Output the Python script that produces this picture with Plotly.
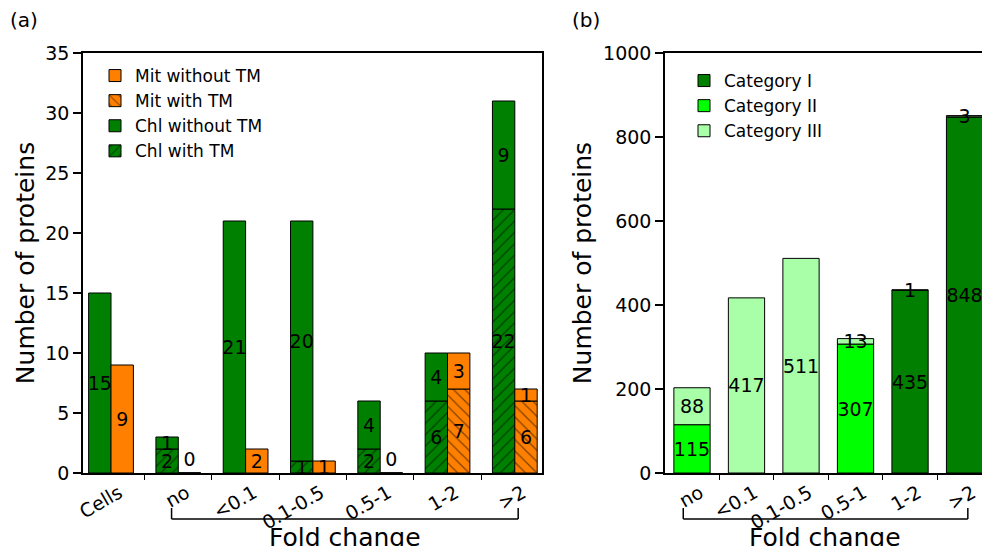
import plotly.graph_objects as go

# ---------------- data: panel (a) ----------------
categories_a = ['Cells', 'no', '<0.1', '0.1-0.5', '0.5-1', '1-2', '>2']
chl_with_tm = [0, 2, 0, 1, 2, 6, 22]
chl_without_tm = [15, 1, 21, 20, 4, 4, 9]
mit_with_tm = [0, 0, 0, 0, 0, 7, 6]
mit_without_tm = [9, 0, 2, 1, 0, 3, 1]

# ---------------- data: panel (b) ----------------
categories_b = ['no', '<0.1', '0.1-0.5', '0.5-1', '1-2', '>2']
cat_1 = [0, 0, 0, 0, 435, 848]
cat_2 = [115, 0, 0, 307, 0, 0]
cat_3 = [88, 417, 511, 13, 1, 3]

ORANGE = '#FF8000'
GREEN = '#008000'
CAT1 = '#007F00'
CAT2 = '#00FF00'
CAT3 = '#A8FFA8'
FONT = 'DejaVu Sans'


def labels(vals, show_zero=None):
    out = []
    for i, v in enumerate(vals):
        if v > 0:
            out.append(str(v))
        elif show_zero is not None and show_zero[i]:
            out.append('0')
        else:
            out.append('')
    return out


def positions(vals):
    return ['inside' if v > 0 else 'outside' for v in vals]


fig = go.Figure()

common = dict(
    marker_line=dict(color='black', width=1),
    textfont=dict(family=FONT, size=19, color='black'),
    insidetextanchor='middle',
    constraintext='none',
    textangle=0,
    cliponaxis=False,
)

# Panel (a): Chl stacked (with TM bottom, without TM top)
fig.add_trace(go.Bar(
    x=categories_a, y=chl_with_tm, name='Chl with TM', offsetgroup='chl',
    marker=dict(color=GREEN, pattern=dict(shape='/', fgcolor='black', bgcolor=GREEN, size=8, solidity=0.15)),
    text=labels(chl_with_tm), textposition=positions(chl_with_tm),
    xaxis='x', yaxis='y', legend='legend', legendrank=4, **common))
fig.add_trace(go.Bar(
    x=categories_a, y=chl_without_tm, base=chl_with_tm, name='Chl without TM', offsetgroup='chl',
    marker=dict(color=GREEN),
    text=labels(chl_without_tm), textposition=positions(chl_without_tm),
    xaxis='x', yaxis='y', legend='legend', legendrank=3, **common))
# Mit stacked
mit_total = [a + b for a, b in zip(mit_with_tm, mit_without_tm)]
fig.add_trace(go.Bar(
    x=categories_a, y=mit_with_tm, name='Mit with TM', offsetgroup='mit',
    marker=dict(color=ORANGE, pattern=dict(shape='\\', fgcolor='black', bgcolor=ORANGE, size=8, solidity=0.15)),
    text=labels(mit_with_tm), textposition=positions(mit_with_tm),
    xaxis='x', yaxis='y', legend='legend', legendrank=2, **common))
fig.add_trace(go.Bar(
    x=categories_a, y=mit_without_tm, base=mit_with_tm, name='Mit without TM', offsetgroup='mit',
    marker=dict(color=ORANGE),
    text=labels(mit_without_tm, [t == 0 for t in mit_total]), textposition=positions(mit_without_tm),
    xaxis='x', yaxis='y', legend='legend', legendrank=1, **common))

# Panel (b): stacked categories
base2 = cat_1
base3 = [a + b for a, b in zip(cat_1, cat_2)]
fig.add_trace(go.Bar(
    x=categories_b, y=cat_1, name='Category I', offsetgroup='b', marker=dict(color=CAT1),
    text=labels(cat_1), textposition=positions(cat_1),
    xaxis='x2', yaxis='y2', legend='legend2', legendrank=1, **common))
fig.add_trace(go.Bar(
    x=categories_b, y=cat_2, base=base2, name='Category II', offsetgroup='b', marker=dict(color=CAT2),
    text=labels(cat_2), textposition=positions(cat_2),
    xaxis='x2', yaxis='y2', legend='legend2', legendrank=2, **common))
fig.add_trace(go.Bar(
    x=categories_b, y=cat_3, base=base3, name='Category III', offsetgroup='b', marker=dict(color=CAT3),
    text=labels(cat_3), textposition=positions(cat_3),
    xaxis='x2', yaxis='y2', legend='legend2', legendrank=3, **common))

W, H = 982, 546
ydom = [1 - 473 / H, 1 - 53 / H]

xaxis_common = dict(
    type='category', showline=True, linecolor='black', linewidth=1.5, mirror=True,
    ticks='outside', tickson='boundaries', ticklen=5, tickcolor='black', tickwidth=1,
    tickangle=-30, ticklabelshift=8, tickfont=dict(family=FONT, size=19, color='black'),
    showgrid=False, zeroline=False, automargin=False,
)
yaxis_common = dict(
    showline=True, linecolor='black', linewidth=1.5, mirror=True,
    ticks='outside', ticklen=8, tickcolor='black', tickwidth=1.5,
    tickfont=dict(family=FONT, size=19, color='black'),
    showgrid=False, zeroline=False, domain=ydom, automargin=False,
    title=dict(text='Number of proteins', font=dict(family=FONT, size=25, color='black'), standoff=4),
)

fig.update_layout(
    width=W, height=H,
    margin=dict(l=0, r=0, t=0, b=0, autoexpand=False),
    paper_bgcolor='white', plot_bgcolor='white',
    barmode='group', bargap=0.335, bargroupgap=0,
    font=dict(family=FONT, color='black'),
    xaxis=dict(xaxis_common, domain=[83 / W, 542 / W], range=[-0.416, 6.404], anchor='y'),
    yaxis=dict(yaxis_common, range=[0, 35], dtick=5, anchor='x'),
    # inward mirrored ticks on the right edge of panel (a)
    yaxis3=dict(overlaying='y', side='right', anchor='x', range=[0, 35], dtick=5,
                ticks='inside', ticklen=6, tickwidth=1.5, tickcolor='black',
                showticklabels=False, showgrid=False, zeroline=False, showline=False,
                automargin=False),
    xaxis2=dict(xaxis_common, domain=[665 / W, 1.0], range=[-0.495, 5.32], anchor='y2'),
    yaxis2=dict(yaxis_common, range=[0, 1000], dtick=200, anchor='x2'),
    legend=dict(x=95 / W, y=1 - 58 / H, xanchor='left', yanchor='top', bgcolor='rgba(0,0,0,0)',
                font=dict(family=FONT, size=17, color='black'), tracegroupgap=0, itemwidth=30),
    legend2=dict(x=684 / W, y=1 - 63 / H, xanchor='left', yanchor='top', bgcolor='rgba(0,0,0,0)',
                 font=dict(family=FONT, size=17, color='black'), tracegroupgap=0, itemwidth=30),
    showlegend=True,
)

# panel letters
fig.add_annotation(text='(a)', x=8 / W, y=1 - 6 / H, xref='paper', yref='paper',
                   xanchor='left', yanchor='top', showarrow=False,
                   font=dict(family=FONT, size=20, color='black'))
fig.add_annotation(text='(b)', x=570 / W, y=1 - 6 / H, xref='paper', yref='paper',
                   xanchor='left', yanchor='top', showarrow=False,
                   font=dict(family=FONT, size=20, color='black'))

# Fold change brackets
y_top = 1 - 508 / H
y_bot = 1 - 519 / H
for xr, x0, x1, cx in [('x', 0.9, 6.05, 345 / W), ('x2', -0.16, 5.06, 825 / W)]:
    line = dict(color='black', width=1.5)
    fig.add_shape(type='line', xref=xr, yref='paper', x0=x0, x1=x0, y0=y_top, y1=y_bot, line=line)
    fig.add_shape(type='line', xref=xr, yref='paper', x0=x0, x1=x1, y0=y_bot, y1=y_bot, line=line)
    fig.add_shape(type='line', xref=xr, yref='paper', x0=x1, x1=x1, y0=y_bot, y1=y_top, line=line)
    fig.add_annotation(text='Fold change', x=cx, y=1 - 521 / H, xref='paper', yref='paper',
                       xanchor='center', yanchor='top', showarrow=False,
                       font=dict(family=FONT, size=25, color='black'))

fig.write_html('out.html', config={'displayModeBar': False},
               post_script="document.body.style.margin='0';document.body.style.overflow='hidden';")
